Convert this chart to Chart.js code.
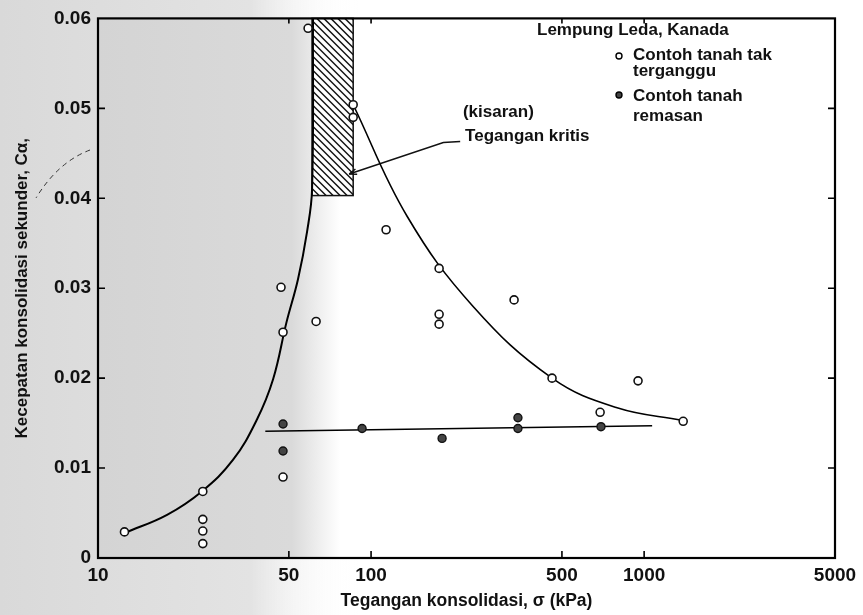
<!DOCTYPE html>
<html>
<head>
<meta charset="utf-8">
<script src="https://cdn.jsdelivr.net/npm/chart.js@4"></script>
<style>
    html, body { margin: 0; padding: 0; background: #fff; }
    #wadah { width: 863px; height: 615px; position: relative; }
</style>
</head>
<body>
<div id="wadah"><canvas id="grafik"></canvas></div>
<script>
// ================== DATA ==================
const tegTakTerganggu = [12.5, 24.2, 24.2, 24.2, 24.2, 46.8, 47.6, 47.6, 58.8, 62.9, 86, 86, 113.5, 177.5, 177.5, 177.5, 334, 460, 690, 950, 1390];
const caTakTerganggu  = [0.0029, 0.0074, 0.0043, 0.0030, 0.0016, 0.0301, 0.0251, 0.0090, 0.0589, 0.0263, 0.0504, 0.0490, 0.0365, 0.0322, 0.0271, 0.0260, 0.0287, 0.0200, 0.0162, 0.0197, 0.0152];

const tegRemasan = [47.6, 47.6, 92.7, 182, 345, 345, 695];
const caRemasan  = [0.0149, 0.0119, 0.0144, 0.0133, 0.0156, 0.0144, 0.0146];

// kurva naik (kiri)
const kurvaNaikX = [12.56, 17.9, 24.0, 31.2, 38.2, 43.8, 49.0, 54.0, 58.3, 60.8, 61.3];
const kurvaNaikY = [0.0028, 0.0048, 0.0074, 0.0109, 0.0154, 0.0199, 0.0262, 0.0310, 0.0363, 0.0410, 0.0600];

// kurva turun (kanan)
const kurvaTurunX = [86, 135.5, 236, 460, 796, 1380];
const kurvaTurunY = [0.0504, 0.0380, 0.0280, 0.0200, 0.0167, 0.0153];

// garis tanah remasan
const garisRemasanX = [41, 1070];
const garisRemasanY = [0.0141, 0.0147];

// kisaran tegangan kritis (daerah arsir)
const kisaranKritisX = [60.8, 86];
const kisaranKritisY = [0.0403, 0.06];
// batas daerah abu-abu
const batasAbu = 64;

const xTicks = [10, 50, 100, 500, 1000, 5000];
const yTicks = [0, 0.01, 0.02, 0.03, 0.04, 0.05, 0.06];

const fontTeks = '"Liberation Sans", Arial, sans-serif';

const keTitik = (xs, ys) => xs.map((x, i) => ({ x: x, y: ys[i] }));

// ================== PLUGIN GAMBAR TAMBAHAN ==================
const pluginLatar = {
    id: 'latar',
    beforeDraw(chart) {
        const ctx = chart.ctx;
        const a = chart.chartArea;
        const xs = chart.scales.x;
        const xb = xs.getPixelForValue(batasAbu);
        ctx.save();
        // latar luar (bintik raster, lebih tipis)
        let g = ctx.createLinearGradient(0, 0, xb + 40, 0);
        g.addColorStop(0, '#d9d9d9');
        g.addColorStop(0.7, '#e3e3e3');
        g.addColorStop(1, 'rgba(255,255,255,0)');
        ctx.fillStyle = g;
        ctx.fillRect(0, 0, xb + 40, chart.height);
        // di dalam area grafik
        ctx.fillStyle = '#fff';
        ctx.fillRect(a.left, a.top, a.right - a.left, a.bottom - a.top);
        g = ctx.createLinearGradient(a.left, 0, xb + 22, 0);
        g.addColorStop(0, '#d4d4d4');
        g.addColorStop(0.8, '#dadada');
        g.addColorStop(1, '#ffffff');
        ctx.fillStyle = g;
        ctx.fillRect(a.left, a.top, xb + 22 - a.left, a.bottom - a.top);
        ctx.restore();
    },
    beforeDatasetsDraw(chart) {
        const ctx = chart.ctx;
        const xs = chart.scales.x, ys = chart.scales.y;
        const x0 = xs.getPixelForValue(kisaranKritisX[0]);
        const x1 = xs.getPixelForValue(kisaranKritisX[1]);
        const y0 = ys.getPixelForValue(kisaranKritisY[1]);
        const y1 = ys.getPixelForValue(kisaranKritisY[0]);
        const w = x1 - x0, h = y1 - y0;
        ctx.save();
        ctx.fillStyle = '#fff';
        ctx.fillRect(x0, y0, w, h);
        ctx.beginPath();
        ctx.rect(x0, y0, w, h);
        ctx.clip();
        ctx.strokeStyle = '#111';
        ctx.lineWidth = 1.4;
        for (let k = -h; k < w + h; k += 7) {
            ctx.beginPath();
            ctx.moveTo(x0 + k, y0);
            ctx.lineTo(x0 + k + h, y0 + h);
            ctx.stroke();
        }
        ctx.restore();
        ctx.save();
        ctx.strokeStyle = '#111';
        ctx.lineWidth = 1.5;
        ctx.strokeRect(x0, y0, w, h);
        ctx.restore();

        // panah "Tegangan kritis"
        const ax = xs.getPixelForValue(212), ay = ys.getPixelForValue(0.0463);
        const bx = xs.getPixelForValue(184), by = ys.getPixelForValue(0.0462);
        const cx = x1 - 4, cy = ys.getPixelForValue(0.0427);
        ctx.save();
        ctx.strokeStyle = '#111';
        ctx.lineWidth = 1.5;
        ctx.beginPath();
        ctx.moveTo(ax, ay);
        ctx.lineTo(bx, by);
        ctx.lineTo(cx, cy);
        ctx.stroke();
        const sudut = Math.atan2(cy - by, cx - bx);
        ctx.beginPath();
        ctx.moveTo(cx, cy);
        ctx.lineTo(cx - 8 * Math.cos(sudut - 0.35), cy - 8 * Math.sin(sudut - 0.35));
        ctx.moveTo(cx, cy);
        ctx.lineTo(cx - 8 * Math.cos(sudut + 0.35), cy - 8 * Math.sin(sudut + 0.35));
        ctx.stroke();
        ctx.restore();
    },
    afterDraw(chart) {
        const ctx = chart.ctx;
        const a = chart.chartArea;
        const xs = chart.scales.x, ys = chart.scales.y;
        ctx.save();
        ctx.strokeStyle = '#000';
        ctx.lineWidth = 2.2;
        ctx.strokeRect(a.left, a.top, a.right - a.left, a.bottom - a.top);

        // tanda tick ke dalam
        ctx.lineWidth = 1.6;
        yTicks.slice(1, -1).forEach(v => {
            const py = ys.getPixelForValue(v);
            ctx.beginPath();
            ctx.moveTo(a.left, py); ctx.lineTo(a.left + 7, py);
            ctx.moveTo(a.right, py); ctx.lineTo(a.right - 7, py);
            ctx.stroke();
        });
        xTicks.slice(1, -1).forEach(v => {
            const px = xs.getPixelForValue(v);
            ctx.beginPath();
            ctx.moveTo(px, a.bottom); ctx.lineTo(px, a.bottom - 7);
            ctx.moveTo(px, a.top); ctx.lineTo(px, a.top + 5);
            ctx.stroke();
        });

        // teks keterangan
        ctx.fillStyle = '#111';
        ctx.font = 'bold 17px ' + fontTeks;
        ctx.textBaseline = 'middle';
        ctx.textAlign = 'left';
        ctx.fillText('Lempung Leda, Kanada', 537, 30);
        ctx.fillText('Contoh tanah tak', 633, 55);
        ctx.fillText('terganggu', 633, 71);
        ctx.fillText('Contoh tanah', 633, 96);
        ctx.fillText('remasan', 633, 116);
        ctx.fillText('(kisaran)', xs.getPixelForValue(217), ys.getPixelForValue(0.0496));
        ctx.fillText('Tegangan kritis', xs.getPixelForValue(221), ys.getPixelForValue(0.0469));

        ctx.lineWidth = 1.4;
        ctx.beginPath();
        ctx.arc(619, 56, 3, 0, Math.PI * 2);
        ctx.fillStyle = '#fff';
        ctx.fill();
        ctx.stroke();
        ctx.beginPath();
        ctx.arc(619, 95, 3, 0, Math.PI * 2);
        ctx.fillStyle = '#444';
        ctx.fill();
        ctx.stroke();

        // garis putus-putus dekat judul sumbu y
        ctx.setLineDash([5, 4]);
        ctx.lineWidth = 1;
        ctx.strokeStyle = '#333';
        ctx.beginPath();
        ctx.moveTo(90, 150);
        ctx.quadraticCurveTo(58, 162, 36, 198);
        ctx.stroke();
        ctx.restore();
    }
};

// ================== GRÁFIK ==================
new Chart(document.getElementById('grafik'), {
    type: 'scatter',
    data: {
        datasets: [
            {
                label: 'Contoh tanah tak terganggu',
                data: keTitik(tegTakTerganggu, caTakTerganggu),
                pointRadius: 4,
                pointBorderWidth: 1.6,
                borderColor: '#111',
                backgroundColor: '#fff'
            },
            {
                label: 'Contoh tanah remasan',
                data: keTitik(tegRemasan, caRemasan),
                pointRadius: 4,
                pointBorderWidth: 1.4,
                borderColor: '#111',
                backgroundColor: '#444'
            },
            {
                type: 'line',
                data: keTitik(kurvaNaikX, kurvaNaikY),
                borderColor: '#000',
                borderWidth: 2,
                pointRadius: 0,
                tension: 0.4,
                fill: false
            },
            {
                type: 'line',
                data: keTitik(kurvaTurunX, kurvaTurunY),
                borderColor: '#000',
                borderWidth: 1.6,
                pointRadius: 0,
                tension: 0.4,
                fill: false
            },
            {
                type: 'line',
                data: keTitik(garisRemasanX, garisRemasanY),
                borderColor: '#000',
                borderWidth: 1.6,
                pointRadius: 0,
                tension: 0,
                fill: false
            }
        ]
    },
    options: {
        responsive: true,
        maintainAspectRatio: false,
        animation: false,
        layout: { padding: { left: 0, right: 28, top: 18, bottom: 0 } },
        plugins: {
            legend: { display: false },
            tooltip: { enabled: false }
        },
        scales: {
            x: {
                type: 'logarithmic',
                min: 10,
                max: 5000,
                afterBuildTicks: s => { s.ticks = xTicks.map(v => ({ value: v })); },
                afterFit: s => { s.height = 57; },
                grid: { display: false, drawTicks: false },
                border: { display: false },
                ticks: {
                    color: '#111',
                    padding: 6,
                    maxRotation: 0,
                    autoSkip: false,
                    font: { family: fontTeks, size: 19, weight: 'bold' },
                    callback: v => String(v)
                },
                title: {
                    display: true,
                    text: 'Tegangan konsolidasi, σ (kPa)',
                    color: '#111',
                    padding: { top: 0, bottom: 3 },
                    font: { family: fontTeks, size: 17.5, weight: 'bold' }
                }
            },
            y: {
                min: 0,
                max: 0.06,
                afterBuildTicks: s => { s.ticks = yTicks.map(v => ({ value: v })); },
                afterFit: s => { s.width = 98; },
                grid: { display: false, drawTicks: false },
                border: { display: false },
                ticks: {
                    color: '#111',
                    padding: 7,
                    font: { family: fontTeks, size: 19, weight: 'bold' },
                    callback: v => v === 0 ? '0' : v.toFixed(2)
                },
                title: {
                    display: true,
                    text: 'Kecepatan konsolidasi sekunder, Cα,',
                    color: '#111',
                    padding: { top: 12, bottom: 0 },
                    font: { family: fontTeks, size: 17, weight: 'bold' }
                }
            }
        }
    },
    plugins: [pluginLatar]
});
</script>
</body>
</html>
